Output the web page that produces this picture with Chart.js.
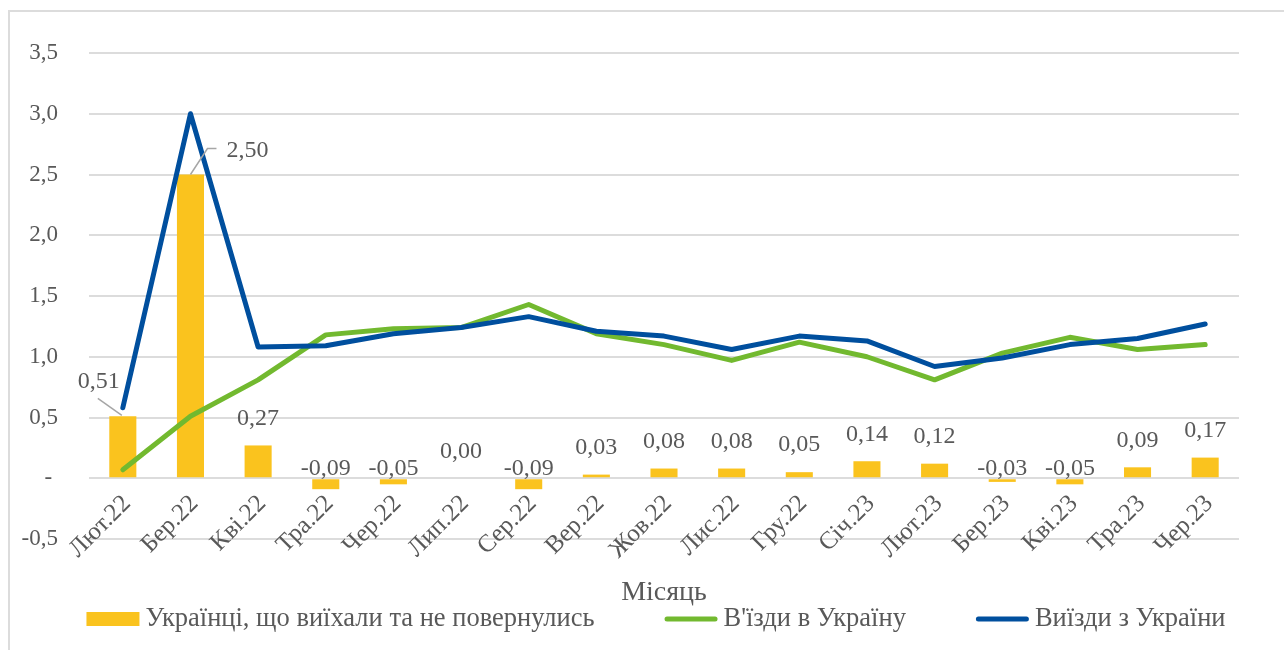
<!DOCTYPE html>
<html>
<head>
<meta charset="utf-8">
<script src="https://cdn.jsdelivr.net/npm/chart.js@4.4.0/dist/chart.umd.min.js"></script>
<style>
  html, body { margin: 0; padding: 0; background: #fff; overflow: hidden; }
  #wrap { position: relative; width: 1284px; height: 650px; }
  #frame { position: absolute; left: 8px; top: 10px; width: 1290px; height: 660px; border-left: 2px solid #dcdcdc; border-top: 2px solid #dcdcdc; }
  canvas { position: absolute; left: 0; top: 0; }
</style>
</head>
<body>
<div id="wrap">
  <div id="frame"></div>
  <canvas id="chart" width="1284" height="650"></canvas>
</div>
<script>
var months = ['Лют.22', 'Бер.22', 'Кві.22', 'Тра.22', 'Чер.22', 'Лип.22', 'Сер.22', 'Вер.22', 'Жов.22',
  'Лис.22', 'Гру.22', 'Січ.23', 'Лют.23', 'Бер.23', 'Кві.23', 'Тра.23', 'Чер.23'];

// Українці, що виїхали та не повернулись
var stayedAbroad = [0.51, 2.50, 0.27, -0.09, -0.05, 0.00, -0.09, 0.03, 0.08, 0.08, 0.05, 0.14, 0.12, -0.03, -0.05, 0.09, 0.17];
// В'їзди в Україну
var entries = [0.07, 0.51, 0.81, 1.18, 1.23, 1.24, 1.43, 1.19, 1.10, 0.97, 1.12, 1.00, 0.81, 1.03, 1.16, 1.06, 1.10];
// Виїзди з України
var exits = [0.58, 3.00, 1.08, 1.09, 1.19, 1.24, 1.33, 1.21, 1.17, 1.06, 1.17, 1.13, 0.92, 0.99, 1.10, 1.15, 1.27];

var yTickLabels = ['-0,5', '- ', '0,5', '1,0', '1,5', '2,0', '2,5', '3,0', '3,5'];

var serif = '"Liberation Serif", "Times New Roman", serif';
var grey = '#595959';

// bar value labels (Excel style, two of them moved aside with leader lines)
var barLabels = {
  id: 'barLabels',
  afterDatasetsDraw: function (chart) {
    var ctx = chart.ctx;
    var meta = chart.getDatasetMeta(0);
    var zero = chart.scales.y.getPixelForValue(0);
    ctx.save();
    ctx.font = '24px ' + serif;
    ctx.fillStyle = grey;
    ctx.textAlign = 'center';
    ctx.textBaseline = 'middle';
    ctx.strokeStyle = '#a6a6a6';
    ctx.lineWidth = 1.5;
    meta.data.forEach(function (bar, i) {
      var v = stayedAbroad[i];
      var x = bar.x;
      var y = v < 0 ? zero - 10 : bar.y - 27;
      if (i === 0) {
        x = bar.x - 24; y = bar.y - 35;
        ctx.beginPath();
        ctx.moveTo(bar.x - 25, bar.y - 18);
        ctx.lineTo(bar.x - 1, bar.y - 1);
        ctx.stroke();
      } else if (i === 1) {
        x = bar.x + 57; y = bar.y - 24;
        ctx.beginPath();
        ctx.moveTo(x - 31, y - 2);
        ctx.lineTo(x - 40, y - 2);
        ctx.lineTo(bar.x, bar.y);
        ctx.stroke();
      }
      ctx.fillText(v.toFixed(2).replace('.', ','), x, y);
    });
    ctx.restore();
  }
};

// legend drawn like the Excel one: wide box / wide line + text
var bottomLegend = {
  id: 'bottomLegend',
  afterDraw: function (chart) {
    var ctx = chart.ctx;
    var sets = chart.data.datasets;
    var boxW = 53, textGap = 6, itemGap = 70, cy = 619;
    ctx.save();
    ctx.font = '26.5px ' + serif;
    ctx.textBaseline = 'middle';
    ctx.textAlign = 'left';
    var widths = sets.map(function (ds) { return boxW + textGap + ctx.measureText(ds.label).width; });
    var total = widths.reduce(function (a, b) { return a + b; }, 0) + itemGap * (sets.length - 1);
    var x = 656 - total / 2;
    sets.forEach(function (ds, i) {
      if (ds.type === 'bar') {
        ctx.fillStyle = ds.backgroundColor;
        ctx.fillRect(x, cy - 7, boxW, 14);
      } else {
        ctx.strokeStyle = ds.borderColor;
        ctx.lineWidth = 5;
        ctx.lineCap = 'round';
        ctx.beginPath();
        ctx.moveTo(x + 2.5, cy);
        ctx.lineTo(x + boxW - 2.5, cy);
        ctx.stroke();
      }
      ctx.fillStyle = grey;
      ctx.fillText(ds.label, x + boxW + textGap, cy);
      x += widths[i] + itemGap;
    });
    ctx.restore();
  }
};

var ctx = document.getElementById('chart').getContext('2d');
new Chart(ctx, {
  data: {
    labels: months,
    datasets: [
      {
        type: 'bar',
        label: 'Українці, що виїхали та не повернулись',
        data: stayedAbroad,
        backgroundColor: '#FAC31E',
        barPercentage: 0.4,
        categoryPercentage: 1,
        order: 3
      },
      {
        type: 'line',
        label: "В'їзди в Україну",
        data: entries,
        borderColor: '#72B92F',
        backgroundColor: '#72B92F',
        borderWidth: 5,
        pointRadius: 0,
        tension: 0,
        borderCapStyle: 'round',
        borderJoinStyle: 'round',
        order: 2
      },
      {
        type: 'line',
        label: 'Виїзди з України',
        data: exits,
        borderColor: '#004F9E',
        backgroundColor: '#004F9E',
        borderWidth: 5,
        pointRadius: 0,
        tension: 0,
        borderCapStyle: 'round',
        borderJoinStyle: 'round',
        order: 1
      }
    ]
  },
  options: {
    responsive: false,
    animation: false,
    layout: { padding: { left: 0, right: 45, top: 53, bottom: 111 } },
    plugins: {
      legend: { display: false },
      tooltip: { enabled: false }
    },
    scales: {
      x: {
        position: { y: 0 },
        grid: { display: false },
        border: { display: false },
        ticks: {
          autoSkip: false,
          minRotation: 45,
          maxRotation: 45,
          padding: 3,
          labelOffset: 4,
          color: grey,
          font: { family: serif, size: 25 }
        },
        title: {
          display: true,
          text: 'Місяць',
          color: grey,
          font: { family: serif, size: 28 },
          padding: { top: 8, bottom: 0 }
        }
      },
      y: {
        min: -0.5,
        max: 3.5,
        afterFit: function (scale) { scale.width = 89; },
        grid: { color: '#dcdcdc', lineWidth: 2, drawTicks: false },
        border: { display: false },
        ticks: {
          stepSize: 0.5,
          padding: 31,
          color: grey,
          font: { family: serif, size: 23 },
          callback: function (value, index) { return yTickLabels[index]; }
        }
      }
    }
  },
  plugins: [barLabels, bottomLegend]
});
</script>
</body>
</html>
